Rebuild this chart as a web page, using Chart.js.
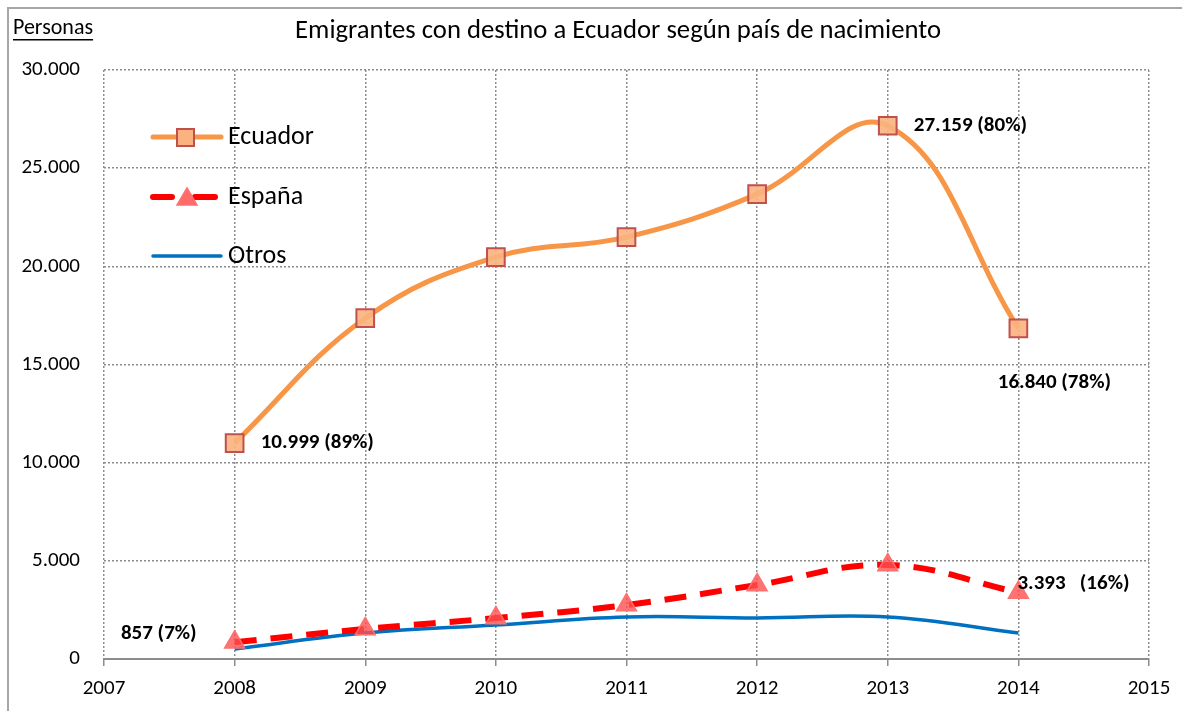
<!DOCTYPE html>
<html>
<head>
<meta charset="utf-8">
<script src="https://cdn.jsdelivr.net/npm/chart.js@4.4.0/dist/chart.umd.min.js"></script>
<style>
  html, body { margin: 0; padding: 0; background: #fff; overflow: hidden; }
  #wrap { position: relative; width: 1182px; height: 711px; }
  #frame { position: absolute; left: 7px; top: 7px; width: 1200px; height: 740px; border: 2px solid #a6a6a6; box-sizing: border-box; pointer-events: none; }
</style>
</head>
<body>
<div id="wrap">
  <canvas id="chart" width="1182" height="711"></canvas>
  <div id="frame"></div>
</div>
<script>
// chart data
const years = [2008, 2009, 2010, 2011, 2012, 2013, 2014];
const ecuador = [10999, 17360, 20470, 21490, 23680, 27159, 16840];
const espana = [857, 1530, 2090, 2750, 3770, 4790, 3393];
const otros = [510, 1320, 1730, 2140, 2090, 2140, 1320];
const xTicks = [2007, 2008, 2009, 2010, 2011, 2012, 2013, 2014, 2015];
const yTicks = [0, 5000, 10000, 15000, 20000, 25000, 30000];

// labels for a few points: [dataset, index, text, placement]
const pointLabels = [
  [0, 0, '10.999 (89%)', 'right'],
  [0, 5, '27.159 (80%)', 'right'],
  [0, 6, '16.840 (78%)', 'below'],
  [1, 6, '3.393   (16%)', 'upright'],
  [1, 0, '857 (7%)', 'left']
];

const FONT = 'Carlito, Lato, "Liberation Sans", sans-serif';

function fmt(v) {
  return String(v).replace(/\B(?=(\d{3})+(?!\d))/g, '.');
}

const decor = {
  id: 'decor',
  afterDraw(chart) {
    const ctx = chart.ctx;
    ctx.save();
    // title + unit
    ctx.fillStyle = '#000';
    ctx.textBaseline = 'middle';
    ctx.font = '26.7px ' + FONT;
    ctx.textAlign = 'center';
    ctx.fillText('Emigrantes con destino a Ecuador según país de nacimiento', 618, 31);
    ctx.font = '22px ' + FONT;
    ctx.textAlign = 'left';
    ctx.fillText('Personas', 13, 28);
    const pw = ctx.measureText('Personas').width;
    ctx.fillRect(13, 39, pw, 1.5);

    // point labels
    ctx.font = 'bold 21px ' + FONT;
    pointLabels.forEach(([ds, i, txt, pos]) => {
      const p = chart.getDatasetMeta(ds).data[i];
      if (pos === 'right') { ctx.textAlign = 'left'; ctx.fillText(txt, p.x + 26, p.y); }
      else if (pos === 'below') { ctx.textAlign = 'center'; ctx.fillText(txt, p.x + 36, p.y + 54); }
      else if (pos === 'upright') { ctx.textAlign = 'left'; ctx.fillText(txt, p.x - 1, p.y - 9); }
      else { ctx.textAlign = 'right'; ctx.fillText(txt, p.x - 38, p.y - 8); }
    });

    // legend
    ctx.lineCap = 'round';
    ctx.font = '26px ' + FONT;
    ctx.textAlign = 'left';
    // Ecuador
    ctx.strokeStyle = '#f79646'; ctx.lineWidth = 5;
    ctx.beginPath(); ctx.moveTo(153, 137); ctx.lineTo(221, 137); ctx.stroke();
    ctx.fillStyle = '#fab27e'; ctx.strokeStyle = '#c0504d'; ctx.lineWidth = 2;
    ctx.fillRect(177, 129, 17, 17); ctx.strokeRect(177, 129, 17, 17);
    ctx.fillStyle = '#000'; ctx.fillText('Ecuador', 228, 137);
    // España
    ctx.strokeStyle = '#ff0000'; ctx.lineWidth = 6;
    ctx.beginPath(); ctx.moveTo(153, 197); ctx.lineTo(172, 197); ctx.moveTo(195, 197); ctx.lineTo(215, 197); ctx.stroke();
    ctx.fillStyle = 'rgba(255,80,80,0.85)'; ctx.strokeStyle = '#ff7070'; ctx.lineWidth = 1.5;
    ctx.beginPath(); ctx.moveTo(187, 188); ctx.lineTo(197, 205); ctx.lineTo(177, 205); ctx.closePath(); ctx.fill(); ctx.stroke();
    ctx.fillStyle = '#000'; ctx.fillText('España', 228, 197);
    // Otros
    ctx.strokeStyle = '#0070c0'; ctx.lineWidth = 3.5;
    ctx.beginPath(); ctx.moveTo(153, 256); ctx.lineTo(221, 256); ctx.stroke();
    ctx.fillStyle = '#000'; ctx.fillText('Otros', 228, 256);
    ctx.restore();
  }
};

new Chart(document.getElementById('chart'), {
  type: 'line',
  data: {
    datasets: [
      {
        label: 'Ecuador',
        data: years.map((y, i) => ({x: y, y: ecuador[i]})),
        borderColor: '#f79646',
        borderWidth: 5,
        tension: 0.4,
        pointStyle: 'rect',
        pointRadius: 12.5,
        pointBackgroundColor: 'rgba(250,178,126,0.9)',
        pointBorderColor: '#c0504d',
        pointBorderWidth: 2,
        order: 1
      },
      {
        label: 'España',
        data: years.map((y, i) => ({x: y, y: espana[i]})),
        borderColor: '#ff0000',
        borderWidth: 6,
        borderDash: [22, 14],
        tension: 0.4,
        pointStyle: 'triangle',
        pointRadius: 11.5,
        pointBackgroundColor: 'rgba(255,80,80,0.8)',
        pointBorderColor: '#ff7070',
        pointBorderWidth: 1.5,
        order: 2
      },
      {
        label: 'Otros',
        data: years.map((y, i) => ({x: y, y: otros[i]})),
        borderColor: '#0070c0',
        borderWidth: 3.5,
        tension: 0.4,
        pointRadius: 0,
        order: 3
      }
    ]
  },
  options: {
    responsive: false,
    animation: false,
    layout: { padding: { left: 0, right: 33, top: 70, bottom: 0 } },
    plugins: { legend: { display: false }, title: { display: false }, tooltip: { enabled: false } },
    scales: {
      x: {
        type: 'linear',
        min: 2007,
        max: 2015,
        afterFit: s => { s.height = 52; },
        afterBuildTicks: s => { s.ticks = xTicks.map(v => ({value: v})); },
        ticks: { color: '#000', font: { family: FONT, size: 21 }, padding: 10, callback: v => String(v), maxRotation: 0 },
        grid: { color: '#8c8c8c', lineWidth: 1.5, tickLength: 7, tickColor: '#8c8c8c', tickBorderDash: [] },
        border: { display: true, color: '#8c8c8c', width: 2, dash: [2, 2] }
      },
      y: {
        min: 0,
        max: 30000,
        afterFit: s => { s.width = 104; },
        afterBuildTicks: s => { s.ticks = yTicks.map(v => ({value: v})); },
        ticks: { color: '#000', font: { family: FONT, size: 21 }, padding: 24, callback: v => fmt(v) },
        grid: { color: '#8c8c8c', lineWidth: 1.5, drawTicks: false },
        border: { display: false, dash: [2, 2] }
      }
    }
  },
  plugins: [decor]
});
</script>
</body>
</html>
